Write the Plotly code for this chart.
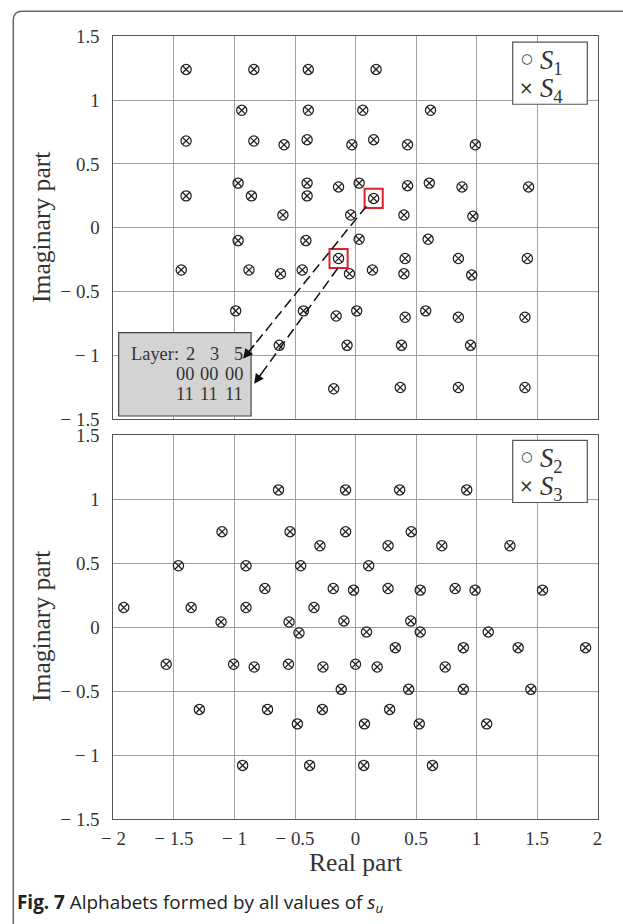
import plotly.graph_objects as go

# ---------------- data ----------------
top_real = [-1.40, -0.84, -0.39, 0.17,
            -0.94, -0.39, 0.06, 0.62,
            -1.40, -0.84, -0.59, -0.40, -0.03, 0.15, 0.43, 0.99,
            -0.97, -1.40, -0.86, -0.40, -0.40, -0.14, 0.03, 0.15, 0.43, 0.61, 0.88, 1.43,
            -0.60, -0.04, 0.40, 0.97,
            -0.97, -0.41, 0.03, 0.60,
            -0.14, 0.41, 0.85, 1.42,
            -1.44, -0.88, -0.62, -0.44, -0.05, 0.14, 0.40, 0.96,
            -0.99, -0.43, -0.16, 0.01, 0.41, 0.58, 0.85, 1.40,
            -0.63, -0.07, 0.38, 0.95,
            -0.18, 0.37, 0.85, 1.40]
top_imag = [1.24, 1.24, 1.24, 1.24,
            0.92, 0.92, 0.92, 0.92,
            0.68, 0.68, 0.65, 0.69, 0.65, 0.69, 0.65, 0.65,
            0.35, 0.25, 0.25, 0.35, 0.25, 0.32, 0.35, 0.23, 0.33, 0.35, 0.32, 0.32,
            0.10, 0.10, 0.10, 0.09,
            -0.10, -0.10, -0.09, -0.09,
            -0.24, -0.24, -0.24, -0.24,
            -0.33, -0.33, -0.36, -0.33, -0.36, -0.33, -0.36, -0.37,
            -0.65, -0.65, -0.69, -0.65, -0.70, -0.65, -0.70, -0.70,
            -0.92, -0.92, -0.92, -0.92,
            -1.26, -1.25, -1.25, -1.25]

bottom_real = [-0.636, -0.082, 0.365, 0.919,
               -1.103, -0.541, -0.082, 0.461,
               -0.294, 0.269, 0.713, 1.276,
               -1.463, -0.905, -0.453, 0.109,
               -0.749, -0.184, -0.016, 0.269, 0.535, 0.823, 0.988, 1.545,
               -1.915, -1.358, -0.905, -0.343,
               -1.111, -0.549, -0.096, 0.457,
               -0.467, 0.091, 0.535, 1.097,
               0.329, 0.891, 1.344, 1.901,
               -1.564, -1.007, -0.837, -0.554, -0.269, 0.000, 0.179, 0.741,
               -0.118, 0.439, 0.891, 1.449,
               -1.290, -0.727, -0.274, 0.282,
               -0.480, 0.074, 0.527, 1.084,
               -0.933, -0.379, 0.068, 0.636]
bottom_imag = [1.074, 1.074, 1.074, 1.074,
               0.747, 0.747, 0.747, 0.747,
               0.637, 0.637, 0.637, 0.637,
               0.481, 0.481, 0.481, 0.481,
               0.303, 0.303, 0.290, 0.303, 0.290, 0.303, 0.290, 0.290,
               0.154, 0.154, 0.154, 0.154,
               0.041, 0.041, 0.049, 0.049,
               -0.045, -0.037, -0.037, -0.037,
               -0.160, -0.160, -0.160, -0.160,
               -0.290, -0.290, -0.311, -0.290, -0.311, -0.290, -0.311, -0.311,
               -0.486, -0.486, -0.486, -0.486,
               -0.643, -0.643, -0.643, -0.643,
               -0.756, -0.756, -0.756, -0.756,
               -1.081, -1.081, -1.081, -1.081]

x_tickvals = [-2, -1.5, -1, -0.5, 0, 0.5, 1, 1.5, 2]
x_ticktext = ["\u2212 2", "\u2212 1.5", "\u2212 1", "\u2212 0.5", "0", "0.5", "1", "1.5", "2"]
y_tickvals = [-1.5, -1, -0.5, 0, 0.5, 1, 1.5]
y_ticktext = ["\u2212 1.5", "\u2212 1", "\u2212 0.5", "0", "0.5", "1", "1.5"]

top_names = ["S1", "S4"]
bottom_names = ["S2", "S3"]
top_legend_text = ["<i>S</i><sub>1</sub>", "<i>S</i><sub>4</sub>"]
bottom_legend_text = ["<i>S</i><sub>2</sub>", "<i>S</i><sub>3</sub>"]
legend_symbols = ["\u25cb", "\u00d7"]

inset_layers = ["2", "3", "5"]
inset_row1 = ["00", "00", "00"]
inset_row2 = ["11", "11", "11"]

# highlighted points (top plot) and arrow geometry
highlight_pts = [(0.15, 0.23), (-0.14, -0.24)]
arrow_starts = [(0.09, 0.169), (-0.148, -0.318)]
arrow_tips = [(-0.929, -1.025), (-0.838, -1.221)]

# ---------------- figure ----------------
# The photographed page shows the figure slightly reduced and offset; positions
# below are given in photo pixels and mapped back to figure pixels.
SX, OX = 0.978, 9.7
SY, OY = 0.977, 9.8
W, H = 628, 936
K = 1 / SX  # size compensation
SERIF = "Liberation Serif, Times New Roman, serif"
TXT = "#333333"


def px_x(p):
    return ((p - OX) / SX) / W


def px_y(p):
    return 1 - ((p - OY) / SY) / H


def fs(v):
    return round(v * K, 1)


xdom = [px_x(111.7), px_x(598.3)]
ydom_top = [px_y(419), px_y(36)]
ydom_bot = [px_y(818.3), px_y(435)]

fig = go.Figure()

circle_marker = dict(symbol="circle-open", size=fs(10), color="#222222", line=dict(width=1.25, color="#222222"))
x_marker = dict(symbol="x-thin-open", size=fs(7), color="#222222", line=dict(width=1.3, color="#222222"))

fig.add_trace(go.Scatter(x=top_real, y=top_imag, mode="markers", marker=circle_marker,
                         name=top_names[0], xaxis="x", yaxis="y"))
fig.add_trace(go.Scatter(x=top_real, y=top_imag, mode="markers", marker=x_marker,
                         name=top_names[1], xaxis="x", yaxis="y"))
fig.add_trace(go.Scatter(x=bottom_real, y=bottom_imag, mode="markers", marker=circle_marker,
                         name=bottom_names[0], xaxis="x2", yaxis="y2"))
fig.add_trace(go.Scatter(x=bottom_real, y=bottom_imag, mode="markers", marker=x_marker,
                         name=bottom_names[1], xaxis="x2", yaxis="y2"))

axis_common = dict(showline=True, mirror=True, linecolor="#555555", linewidth=1.2,
                   showgrid=True, gridcolor="#a0a0a0", gridwidth=1.2, zeroline=False,
                   ticks="", tickfont=dict(family=SERIF, size=fs(18.5), color=TXT), fixedrange=True)

fig.update_layout(
    width=W, height=H,
    margin=dict(l=0, r=0, t=0, b=0),
    paper_bgcolor="white", plot_bgcolor="white",
    showlegend=False,
    xaxis=dict(domain=xdom, anchor="y", range=[-2, 2], tickvals=x_tickvals, ticktext=x_ticktext,
               showticklabels=False, **axis_common),
    yaxis=dict(domain=ydom_top, anchor="x", range=[-1.5, 1.5], tickvals=y_tickvals, ticktext=y_ticktext,
               ticklabelstandoff=9, **axis_common),
    xaxis2=dict(domain=xdom, anchor="y2", range=[-2, 2], tickvals=x_tickvals, ticktext=x_ticktext,
                ticklabelstandoff=2, **axis_common),
    yaxis2=dict(domain=ydom_bot, anchor="x2", range=[-1.5, 1.5], tickvals=y_tickvals, ticktext=y_ticktext,
                ticklabelstandoff=9, **axis_common),
)

shapes = []
# outer frame (left + top, rounded corner)
fl, ft = 11, 11
shapes.append(dict(type="path", xref="paper", yref="paper",
                   path=f"M {px_x(fl)},{px_y(930)} L {px_x(fl)},{px_y(ft + 9)} Q {px_x(fl)},{px_y(ft)} {px_x(fl + 9)},{px_y(ft)} L {px_x(640)},{px_y(ft)}",
                   line=dict(color="#666666", width=1.5)))
# legend boxes
for top in (42, 440):
    shapes.append(dict(type="rect", xref="paper", yref="paper", x0=px_x(513), x1=px_x(588),
                       y0=px_y(top + 62), y1=px_y(top), fillcolor="white",
                       line=dict(color="#555555", width=1.2), layer="above"))
# inset box
shapes.append(dict(type="rect", xref="x", yref="y", x0=-1.957, x1=-0.863, y0=-1.473, y1=-0.821,
                   fillcolor="#d3d3d3", line=dict(color="#444444", width=1.2), layer="above"))
# red highlight boxes
for (hx, hy) in highlight_pts:
    shapes.append(dict(type="rect", xref="x", yref="y", x0=hx - 0.075, x1=hx + 0.075,
                       y0=hy - 0.075, y1=hy + 0.075, line=dict(color="#e0202a", width=2)))
# dashed connector lines
for (s, t) in zip(arrow_starts, arrow_tips):
    ex = s[0] + (t[0] - s[0]) * 0.93
    ey = s[1] + (t[1] - s[1]) * 0.93
    shapes.append(dict(type="line", xref="x", yref="y", x0=s[0], y0=s[1], x1=ex, y1=ey,
                       line=dict(color="#111111", width=1.5, dash="10px,5px"), layer="above"))
fig.update_layout(shapes=shapes)

annotations = []
for (s, t) in zip(arrow_starts, arrow_tips):
    ax_ = s[0] + (t[0] - s[0]) * 0.90
    ay_ = s[1] + (t[1] - s[1]) * 0.90
    annotations.append(dict(x=t[0], y=t[1], ax=ax_, ay=ay_, xref="x", yref="y", axref="x", ayref="y",
                            text="", showarrow=True, arrowhead=2, arrowsize=1.3, arrowwidth=1.5,
                            arrowcolor="#111111", standoff=0, startstandoff=0))

# legends (drawn as text in boxes)
sym_fonts = [dict(family="DejaVu Sans", size=fs(13), color=TXT),
             dict(family="DejaVu Sans", size=fs(17), color=TXT)]
leg_font = dict(family=SERIF, size=fs(26), color=TXT)
for top, texts in ((42, top_legend_text), (440, bottom_legend_text)):
    for i, (sym, txt) in enumerate(zip(legend_symbols, texts)):
        annotations.append(dict(x=px_x(527), y=px_y(top + 16 + 30 * i), xref="paper", yref="paper",
                                text=sym, showarrow=False, xanchor="center", yanchor="middle",
                                font=sym_fonts[i]))
        annotations.append(dict(x=px_x(538), y=px_y(top + 20 + 28 * i), xref="paper", yref="paper",
                                text=txt, showarrow=False, xanchor="left", yanchor="middle", font=leg_font))

# inset text
inset_font = dict(family=SERIF, size=fs(18), color=TXT)
col_x = [-1.406, -1.209, -1.003]
annotations.append(dict(x=-1.875, y=-0.984, xref="x", yref="y", text="Layer:", showarrow=False,
                        xanchor="left", yanchor="middle", font=inset_font))
for cx, a, b, c in zip(col_x, inset_layers, inset_row1, inset_row2):
    annotations.append(dict(x=cx + 0.04, y=-0.984, xref="x", yref="y", text=a, showarrow=False,
                            xanchor="center", yanchor="middle", font=inset_font))
    annotations.append(dict(x=cx, y=-1.141, xref="x", yref="y", text=b, showarrow=False,
                            xanchor="center", yanchor="middle", font=inset_font))
    annotations.append(dict(x=cx, y=-1.298, xref="x", yref="y", text=c, showarrow=False,
                            xanchor="center", yanchor="middle", font=inset_font))

# axis titles
title_font = dict(family=SERIF, size=fs(25), color=TXT)
for yc in (227.5, 626.3):
    annotations.append(dict(x=px_x(40), y=px_y(yc), xref="paper", yref="paper", text="Imaginary part",
                            textangle=-90, showarrow=False, xanchor="center", yanchor="middle", font=title_font))
annotations.append(dict(x=px_x(355), y=px_y(862), xref="paper", yref="paper", text="Real part",
                        showarrow=False, xanchor="center", yanchor="middle", font=title_font))
# caption
annotations.append(dict(x=px_x(13), y=px_y(902), xref="paper", yref="paper",
                        text="<b>Fig. 7</b> Alphabets formed by all values of <i>s</i><sub><i>u</i></sub>",
                        showarrow=False, xanchor="left", yanchor="middle",
                        font=dict(family="Open Sans, Noto Sans, sans-serif", size=fs(18.5), color="#222222")))
fig.update_layout(annotations=annotations)

fig.write_html("out.html", config={"displayModeBar": False},
               post_script="document.body.style.margin='0px';document.body.style.padding='0px';"
                           "document.body.style.overflow='hidden';")
